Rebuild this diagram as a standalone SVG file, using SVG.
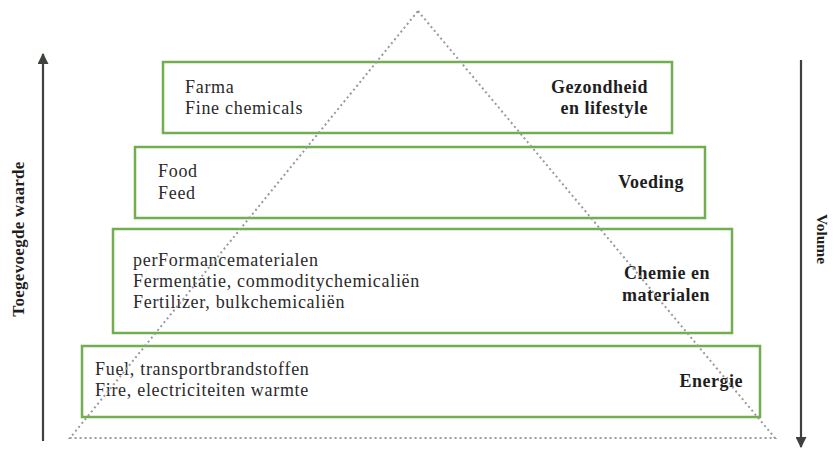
<svg xmlns="http://www.w3.org/2000/svg" width="840" height="450" viewBox="0 0 840 450">
<defs>
<style>
.box{fill:#ffffff;stroke:#72ad4f;stroke-width:2.5}
.tri{fill:none;stroke:#9a9a9a;stroke-width:2;stroke-dasharray:2 3}
.axis{stroke:#3d423d;stroke-width:2.2;fill:none}
.t{font-family:"Liberation Serif","Times New Roman",serif;font-size:18px;fill:#2a2a2a;letter-spacing:0.7px}
.b{font-family:"Liberation Serif","Times New Roman",serif;font-size:18px;font-weight:bold;fill:#1e1e1e;letter-spacing:0.5px;text-anchor:end}
.ax{font-family:"Liberation Serif","Times New Roman",serif;font-weight:bold;fill:#1e1e1e;text-anchor:middle}
</style>
<marker id="ah" viewBox="0 0 10 10" refX="9" refY="5" markerWidth="5" markerHeight="5" orient="auto" markerUnits="strokeWidth">
<path d="M0,0 L10,5 L0,10 z" fill="#3d423d"/>
</marker>
</defs>
<rect width="840" height="450" fill="#ffffff"/>

<g id="energie">
<rect class="box" x="82" y="346" width="678" height="71"/>
<text class="t" x="95" y="375">Fuel, transportbrandstoffen</text>
<text class="t" x="95" y="396">Fire, electriciteiten warmte</text>
<text class="b" x="743" y="387">Energie</text>
</g>

<g id="chemie">
<rect class="box" x="113" y="229" width="619" height="104"/>
<text class="t" x="133" y="266">perFormancematerialen</text>
<text class="t" x="133" y="287">Fermentatie, commoditychemicaliën</text>
<text class="t" x="133" y="308">Fertilizer, bulkchemicaliën</text>
<text class="b" x="710" y="279">Chemie en</text>
<text class="b" x="710" y="301">materialen</text>
</g>

<g id="voeding">
<rect class="box" x="135" y="147" width="570" height="71"/>
<text class="t" x="158" y="177">Food</text>
<text class="t" x="158" y="199">Feed</text>
<text class="b" x="684" y="188">Voeding</text>
</g>

<g id="gezondheid">
<rect class="box" x="163" y="62" width="509" height="71"/>
<text class="t" x="185" y="93">Farma</text>
<text class="t" x="185" y="114">Fine chemicals</text>
<text class="b" x="648" y="93">Gezondheid</text>
<text class="b" x="648" y="114">en lifestyle</text>
</g>

<g id="connectors">
<polygon class="tri" points="418,11 775,438 70,438"/>
<line class="axis" x1="43" y1="441" x2="43" y2="54" marker-end="url(#ah)"/>
<line class="axis" x1="801" y1="60" x2="801" y2="447" marker-end="url(#ah)"/>
</g>

<g id="axis-labels">
<text class="ax" font-size="17" letter-spacing="0.3" transform="translate(24,239) rotate(-90)">Toegevoegde waarde</text>
<text class="ax" font-size="15.5" transform="translate(817,239) rotate(90)">Volume</text>
</g>
</svg>
